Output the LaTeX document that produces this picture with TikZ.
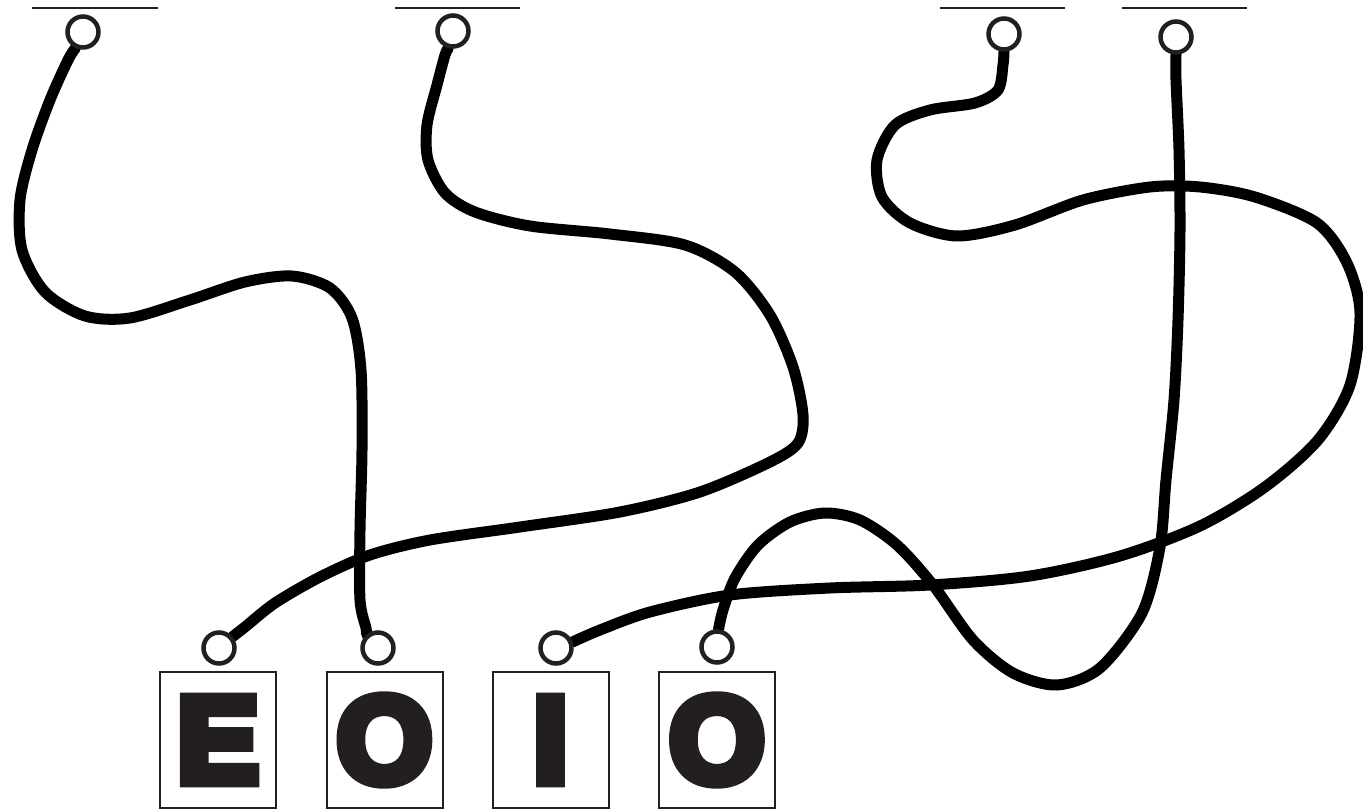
\documentclass[tikz,border=0pt]{standalone}
\usepackage{fontspec}
\newfontfamily\heavyfont[FakeBold=9]{Liberation Sans Bold}
\usetikzlibrary{backgrounds}
\definecolor{ink}{HTML}{231F20}
\begin{document}
\begin{tikzpicture}[x=1pt,y=-1pt,
  ring/.style={circle, draw=ink, line width=4.5pt, fill=white, minimum size=31pt, inner sep=0pt},
  lbox/.style={draw=ink, line width=2pt, minimum width=116pt, minimum height=136pt, inner sep=0pt},
  letter/.style={inner sep=0pt, font=\heavyfont\fontsize{122}{122}\selectfont, text=ink},
  rope/.style={line width=11pt, line cap=round, line join=round, black},
  hang/.style={line width=2.2pt, ink}]
\useasboundingbox (0,0) rectangle (1363,810);

% hanging bars
\coordinate (h1a) at (32,8);   \coordinate (h1b) at (158,8);
\coordinate (h2a) at (395,8);  \coordinate (h2b) at (520,8);
\coordinate (h3a) at (940,8);  \coordinate (h3b) at (1065,8);
\coordinate (h4a) at (1122,8); \coordinate (h4b) at (1247,8);
\draw[hang] (h1a) -- (h1b);
\draw[hang] (h2a) -- (h2b);
\draw[hang] (h3a) -- (h3b);
\draw[hang] (h4a) -- (h4b);

% top rings
\node[ring] (t1) at (83,32) {};
\node[ring] (t2) at (453,31) {};
\node[ring] (t3) at (1004,34) {};
\node[ring] (t4) at (1176,37) {};

% bottom rings
\node[ring] (b1) at (219,648) {};
\node[ring] (b2) at (378,648) {};
\node[ring] (b3) at (556,648) {};
\node[ring] (b4) at (717,647) {};

% letter boxes
\node[lbox] (l1) at (218,740) {};
\node[lbox] (l2) at (384.5,740) {};
\node[lbox] (l3) at (550.5,740) {};
\node[lbox] (l4) at (717,740) {};
\node[letter] (e1) at (l1.center) {E};
\node[letter] (o2) at (l2.center) {O};
\node[letter] (i3) at (l3.center) {I};
\node[letter] (o4) at (l4.center) {O};

\begin{pgfonlayer}{background}
\fill[white] (0,0) rectangle (1363,810);
% string A: t1 -> b2
\draw[rope] plot[smooth] coordinates {(t1.245) (68,60) (50,100) (32,150) (20,200) (22,250) (45,292) (85,316) (130,318) (190,300) (245,282) (292,276) (330,288) (352,318) (361,370) (362,450) (360,530) (360,600) (366,628) (b2.130)};
% string B: t2 -> b1
\draw[rope] plot[smooth] coordinates {(t2.255) (445,55) (437,85) (427,125) (428,160) (445,193) (475,212) (530,226) (610,234) (685,245) (735,272) (770,315) (793,367) (803,415) (798,443) (770,462) (700,492) (620,512) (520,527) (430,540) (370,555) (320,577) (275,603) (245,627) (b1.40)};
% string C: t3 -> b3
\draw[rope] plot[smooth] coordinates {(t3.270) (1003,65) (998,90) (975,103) (930,110) (895,125) (877,160) (882,197) (910,223) (957,236) (1015,225) (1083,200) (1150,187) (1200,187) (1255,197) (1317,223) (1347,263) (1360,313) (1350,385) (1318,440) (1265,487) (1200,526) (1120,556) (1030,576) (930,585) (830,588) (730,595) (650,612) (600,630) (b3.20)};
% string D: t4 -> b4
\draw[rope] plot[smooth] coordinates {(t4.270) (1176,80) (1179,150) (1180,230) (1178,320) (1174,400) (1166,480) (1160,547) (1142,613) (1100,668) (1057,685) (1013,673) (973,640) (933,585) (897,545) (860,520) (825,513) (790,522) (758,545) (735,578) (723,610) (b4.85)};
\end{pgfonlayer}
\end{tikzpicture}
\end{document}
